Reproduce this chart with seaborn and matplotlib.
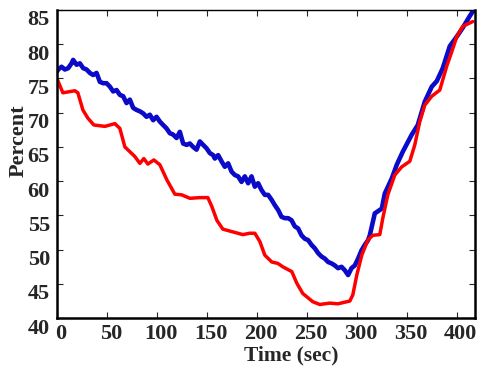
import numpy as np
import pandas as pd
import matplotlib
matplotlib.use("Agg")
import matplotlib.pyplot as plt
import matplotlib.transforms as mtransforms
import seaborn as sns

# red series (smooth)
red_t = [0, 6, 18, 21, 26, 31, 37, 48, 58, 63, 68, 78, 83, 87, 91, 97, 103, 110, 118, 125,
         133, 143, 151, 155, 160, 166, 176, 186, 193, 198, 203, 208, 215, 221, 226, 235, 240,
         246, 256, 263, 273, 281, 293, 296, 300, 305, 311, 316, 323, 326, 331, 338, 345, 353,
         358, 363, 368, 375, 383, 390, 395, 400, 406, 416]
red_v = [75.0, 72.9, 73.2, 72.9, 70.4, 69.2, 68.2, 68.0, 68.4, 67.7, 65.0, 63.6, 62.6, 63.3,
         62.5, 63.1, 62.4, 60.2, 58.1, 58.0, 57.5, 57.6, 57.6, 56.3, 54.3, 53.0, 52.6, 52.2,
         52.4, 52.4, 51.2, 49.2, 48.2, 48.0, 47.5, 46.8, 45.1, 43.6, 42.4, 42.0, 42.2, 42.1,
         42.5, 43.4, 46.3, 49.2, 51.4, 52.1, 52.2, 54.6, 58.0, 60.9, 62.1, 62.9, 65.3, 68.7,
         71.1, 72.4, 73.3, 76.8, 78.9, 81.1, 82.6, 83.3]

# blue series (noisy), read roughly every 3 s
blue_t = [0, 1.3, 4.7, 8, 11.3, 14.7, 16.3, 19.7, 23, 26.3, 29.7, 33, 36.3, 39.7, 43, 46.3,
          49.7, 53, 56.3, 59.7, 63, 66.3, 69.7, 73, 76.3, 79.7, 83, 86.3, 89.7, 93, 96.3,
          99.7, 103, 106.3, 109.7, 113, 116.3, 119.7, 123, 126.3, 129.7, 133, 136.3, 139.7,
          143, 146.3, 149.7, 153, 156.3, 158, 161.3, 164.7, 168, 171.3, 174.7, 178, 181.3,
          184.7, 188, 191.3, 194.7, 198, 201.3, 204.7, 208, 211.3, 214.7, 218, 221.3, 224.7,
          228, 231.3, 234.7, 238, 241.3, 244.7, 248, 251.3, 254.7, 258, 261.3, 264.7, 268,
          271.3, 274.7, 278, 281.3, 284.7, 288, 291.3, 294.7, 298, 301.3, 304.7, 308, 311.3,
          313, 318, 325, 328, 335, 340, 346, 355, 361, 368, 375, 380, 386, 393, 400, 406,
          413, 417]
blue_v = [76.0, 76.3, 76.7, 76.3, 76.5, 77.2, 77.7, 77.0, 77.2, 76.5, 76.3, 75.8, 75.5, 75.8,
          74.5, 74.3, 74.3, 73.8, 73.1, 73.3, 72.6, 72.4, 71.4, 71.9, 70.7, 70.4, 70.2, 69.9,
          69.4, 69.7, 68.9, 69.4, 68.7, 68.2, 67.7, 67.0, 66.8, 66.3, 67.2, 65.5, 65.3, 65.5,
          65.0, 64.6, 65.8, 65.3, 64.8, 64.1, 63.8, 63.3, 63.8, 62.9, 62.1, 62.6, 61.4, 60.9,
          60.7, 59.9, 60.7, 59.7, 60.7, 59.2, 59.7, 58.7, 58.0, 58.0, 57.3, 56.5, 55.8, 54.8,
          54.6, 54.6, 54.3, 53.4, 53.1, 52.1, 51.6, 51.4, 50.7, 50.2, 49.5, 49.0, 48.7, 48.2,
          48.0, 47.7, 47.3, 47.5, 47.0, 46.3, 47.3, 47.7, 48.7, 49.9, 50.7, 51.4, 52.1, 55.3,
          56.0, 58.2, 60.4, 62.4, 64.3, 66.8, 68.2, 71.6, 73.8, 74.6, 76.5, 79.7, 81.1, 82.4,
          84.1, 85.0]

x_ticks = [0, 50, 100, 150, 200, 250, 300, 350, 400]
y_ticks = [40, 45, 50, 55, 60, 65, 70, 75, 80, 85]

sns.set_style("ticks")
plt.rcParams['font.family'] = ['Liberation Serif', 'DejaVu Serif']
plt.rcParams['font.weight'] = 'bold'

fig = plt.figure(figsize=(4.82, 3.67), dpi=100)
ax = fig.add_axes([0.118, 0.133, 0.867, 0.840])

blue_df = pd.DataFrame({"t": blue_t, "v": blue_v})
red_df = pd.DataFrame({"t": red_t, "v": red_v})
sns.lineplot(data=blue_df, x="t", y="v", color="#0a0ac8", linewidth=3.3, ax=ax)
sns.lineplot(data=red_df, x="t", y="v", color="#ff0000", linewidth=2.5, ax=ax)

ax.set_xlim(0, 418)
ax.set_ylim(40, 85)
ax.set_xticks(x_ticks)
ax.set_yticks(y_ticks)
ax.tick_params(direction="in", length=4, width=0.8, top=True, right=True,
               labelsize=16, pad=4)
ax.tick_params(axis="y", pad=5)

for side in ["left", "bottom", "right"]:
    ax.spines[side].set_linewidth(1.8)
ax.spines["top"].set_linewidth(1.0)
for s in ax.spines.values():
    s.set_color("black")

# labels sit a little off the ticks in the original
dy = mtransforms.ScaledTranslation(0, -0.08, fig.dpi_scale_trans)
for lab in ax.get_yticklabels():
    lab.set_transform(lab.get_transform() + dy)
    lab.set_fontweight("bold")
dx = mtransforms.ScaledTranslation(0.04, 0, fig.dpi_scale_trans)
for lab in ax.get_xticklabels():
    lab.set_transform(lab.get_transform() + dx)
    lab.set_fontweight("bold")

ax.set_xlabel("Time (sec)", fontsize=15.5, fontweight="bold")
ax.set_ylabel("Percent", fontsize=16, fontweight="bold")
ax.xaxis.set_label_coords(0.56, -0.087)
ax.yaxis.set_label_coords(-0.068, 0.575)

fig.savefig("out.png", dpi=100)
